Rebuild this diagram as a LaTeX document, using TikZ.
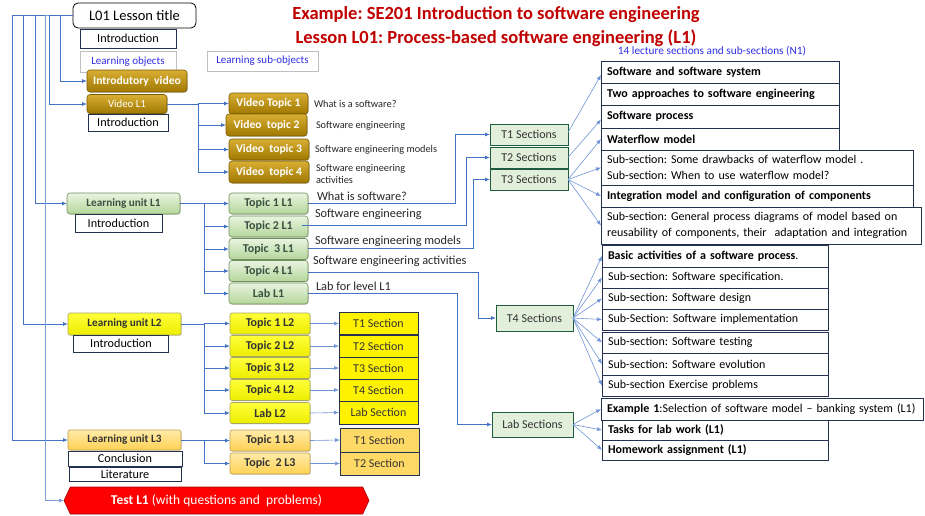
\documentclass[tikz,border=0pt]{standalone}
\usepackage{fontspec}
\setmainfont{Carlito}
\usetikzlibrary{arrows.meta,shapes.symbols,shadows}
\frenchspacing

\definecolor{conn}{HTML}{4472C4}
\definecolor{fan}{HTML}{6F94D6}
\definecolor{navy}{HTML}{25324F}
\definecolor{titlered}{HTML}{C00000}
\definecolor{objblue}{HTML}{2F2FE8}
\definecolor{goldtop}{HTML}{D8AE33}
\definecolor{goldbot}{HTML}{A07800}
\definecolor{goldline}{HTML}{7A5C00}
\definecolor{greentop}{HTML}{E9F4E0}
\definecolor{greenbot}{HTML}{B4D69A}
\definecolor{greenline}{HTML}{6F8F5C}
\definecolor{greentext}{HTML}{3A5040}
\definecolor{yeltop}{HTML}{FFFF3A}
\definecolor{yelbot}{HTML}{EDED00}
\definecolor{yelline}{HTML}{A8A860}
\definecolor{ortop}{HTML}{FFEBA8}
\definecolor{orbot}{HTML}{FFD154}
\definecolor{orline}{HTML}{BFA050}
\definecolor{secgreen}{HTML}{E2EFDA}
\definecolor{secorange}{HTML}{FFD966}
\definecolor{darktext}{HTML}{333333}

\newcommand\fsz[1]{\fontsize{#1}{#1}\selectfont}

\begin{document}
\begin{tikzpicture}[x=1pt,y=-1pt,
  every node/.style={inner sep=0pt, outer sep=0pt},
  link/.style={draw=conn, line width=0.8pt, -{Latex[length=5pt,width=4pt]}},
  fanlink/.style={draw=fan, line width=0.6pt, -{Latex[length=5pt,width=4pt]}},
  soft/.style={drop shadow={shadow xshift=0.8pt, shadow yshift=-0.8pt, opacity=0.3}},
  gold/.style={soft, rounded corners=3pt, top color=goldtop, bottom color=goldbot,
    draw=goldline, line width=0.6pt, text=white, font=\fsz{11.6}\bfseries},
  green/.style={soft, rounded corners=3pt, top color=greentop, bottom color=greenbot,
    draw=greenline, line width=0.6pt, text=greentext, font=\fsz{12}\bfseries},
  yel/.style={soft, rounded corners=2pt, top color=yeltop, bottom color=yelbot,
    draw=yelline, line width=0.6pt, text=darktext, font=\fsz{12}\bfseries},
  orng/.style={soft, rounded corners=2pt, top color=ortop, bottom color=orbot,
    draw=orline, line width=0.6pt, text=darktext, font=\fsz{12}\bfseries},
  unitfont/.style={font=\fsz{11.2}\bfseries},
  tsec/.style={fill=secgreen, draw=navy!80!green, line width=0.7pt, text=darktext, font=\fsz{12}},
  ysec/.style={fill=yellow, draw=navy, line width=0.7pt, text=darktext, font=\fsz{12}},
  osec/.style={fill=secorange, draw=navy, line width=0.7pt, text=darktext, font=\fsz{12}},
  plain/.style={fill=white, draw=navy, line width=0.7pt, text=black, font=\fsz{12.2}},
  objbox/.style={fill=white, draw=black!25, line width=0.6pt, text=objblue, font=\fsz{11}},
  rbox/.style={fill=white, draw=navy, line width=0.7pt, anchor=north west, align=left,
    inner xsep=6pt, inner ysep=0pt, text=black, font=\fontsize{12}{15.5}\selectfont},
  note/.style={anchor=west, text=black!85, font=\fsz{10.3}, align=left},
  tlabel/.style={anchor=west, text=black!85, font=\fsz{12.3}},
]
\useasboundingbox (0,0) rectangle (925,515);

% ---------- headings ----------
\node[font=\fsz{18.5}\bfseries, text=titlered] (h1) at (496,15) {Example: SE201 Introduction to software engineering};
\node[font=\fsz{18.5}\bfseries, text=titlered] (h2) at (496,38) {Lesson L01: Process-based software engineering (L1)};
\node[font=\fsz{11.3}, text=objblue] (n1) at (712,51) {14 lecture sections and sub-sections (N1)};

% ---------- lesson head ----------
\node[draw=black, fill=white, rounded corners=5pt, line width=0.8pt, font=\fsz{14.5},
  minimum width=123pt, minimum height=25pt] (title) at (134.5,15.5) {L01 Lesson title};
\node[plain, minimum width=96pt, minimum height=19pt] (intro0) at (128,38.5) {Introduction};
\node[objbox, minimum width=96pt, minimum height=21pt] (lobj) at (128,61.5) {Learning objects};
\node[objbox, minimum width=111pt, minimum height=20pt] (lsub) at (262.5,61) {Learning sub-objects};

% ---------- video branch ----------
\node[gold, minimum width=100pt, minimum height=22pt] (iv) at (137,81) {Introdutory\ \ video};
\node[gold, font=\fsz{10.8}, minimum width=80pt, minimum height=19pt] (vl1) at (127,104) {Video L1};
\node[plain, minimum width=80pt, minimum height=17pt] (intro1) at (128,122.5) {Introduction};

\node[gold, minimum width=79pt, minimum height=21pt] (vt1) at (268.5,103.5) {Video Topic 1};
\node[gold, minimum width=81pt, minimum height=22pt] (vt2) at (266.5,125) {Video\ \ topic 2};
\node[gold, minimum width=80pt, minimum height=21pt] (vt3) at (269,149.5) {Video\ \ topic 3};
\node[gold, minimum width=80pt, minimum height=22pt] (vt4) at (269,172) {Video\ \ topic 4};

\node[note] (nv1) at (314,103.5) {What is a software?};
\node[note] (nv2) at (316,126) {Software engineering};
\node[note] (nv3) at (315,149.5) {Software engineering models};
\node[note, font=\fontsize{10.3}{12.5}\selectfont] (nv4) at (316,174) {Software engineering\\activities};

% ---------- learning unit L1 ----------
\node[green, unitfont, minimum width=113pt, minimum height=21pt] (lu1) at (123.5,203.5) {Learning unit L1};
\node[plain, minimum width=87pt, minimum height=18pt] (intro2) at (118.5,223) {Introduction};

\node[green, minimum width=79pt, minimum height=21pt] (tp1) at (268.5,203.5) {Topic 1 L1};
\node[green, minimum width=79pt, minimum height=21pt] (tp2) at (268.5,226.5) {Topic 2 L1};
\node[green, minimum width=79pt, minimum height=21pt] (tp3) at (268.5,249) {Topic\ \ 3 L1};
\node[green, minimum width=79pt, minimum height=21pt] (tp4) at (268.5,271) {Topic 4 L1};
\node[green, minimum width=79pt, minimum height=21pt] (lab1) at (268.5,293.5) {Lab L1};

\node[tlabel] (nt1) at (317,196) {What is software?};
\node[tlabel] (nt2) at (315,214) {Software engineering};
\node[tlabel] (nt3) at (315,241) {Software engineering models};
\node[tlabel] (nt4) at (313,261.5) {Software engineering activities};
\node[tlabel] (nt5) at (316,286) {Lab for level L1};

% ---------- section groups ----------
\node[tsec, minimum width=78pt, minimum height=21pt] (t1) at (529,134.5) {T1 Sections};
\node[tsec, minimum width=78pt, minimum height=21pt] (t2) at (529,157.5) {T2 Sections};
\node[tsec, minimum width=78pt, minimum height=21pt] (t3) at (529,179.5) {T3 Sections};
\node[tsec, minimum width=77pt, minimum height=26pt] (t4) at (534.5,318) {T4 Sections};
\node[tsec, minimum width=81pt, minimum height=25pt] (tlab) at (532.5,424.5) {Lab Sections};

% ---------- lecture sections list ----------
\node[rbox, text width=226pt, minimum height=22pt] (s1) at (601,61) {\textbf{Software and software system}};
\node[rbox, text width=226pt, minimum height=22pt] (s2) at (601,83) {\textbf{Two approaches to software engineering}};
\node[rbox, text width=226pt, minimum height=23pt] (s3) at (601,105) {\textbf{Software process}};
\node[rbox, text width=226pt, minimum height=22pt] (s4) at (601,128) {\textbf{Waterflow model}};
\node[rbox, text width=300pt, minimum height=35pt] (s5) at (601,150) {Sub-section: Some drawbacks of waterflow model .\\Sub-section: When to use waterflow model?};
\node[rbox, text width=300pt, minimum height=22pt] (s6) at (601,185) {\textbf{Integration model and configuration of components}};
\node[rbox, text width=308pt, minimum height=37pt] (s7) at (601,207) {Sub-section: General process diagrams of model based on\\reusability of components, their\ \ adaptation and integration};

\node[rbox, text width=214pt, minimum height=22pt] (s8) at (602,245) {\textbf{Basic activities of a software process}.};
\node[rbox, text width=214pt, minimum height=21pt] (s9) at (602,267) {Sub-section: Software specification.};
\node[rbox, text width=214pt, minimum height=21pt] (s10) at (602,288) {Sub-section: Software design};
\node[rbox, text width=214pt, minimum height=21pt] (s11) at (602,309) {Sub-Section: Software implementation};
\node[rbox, text width=214pt, minimum height=21pt] (s12) at (602,332) {Sub-section: Software testing};
\node[rbox, text width=214pt, minimum height=22pt] (s13) at (602,353) {Sub-section: Software evolution};
\node[rbox, text width=214pt, minimum height=21pt] (s14) at (602,375) {Sub-section Exercise problems};

\node[rbox, text width=310pt, minimum height=22pt] (s15) at (601,398) {\textbf{Example 1}:Selection of software model – banking system (L1)};
\node[rbox, text width=214pt, minimum height=20pt] (s16) at (602,420) {\textbf{Tasks for lab work (L1)}};
\node[rbox, text width=214pt, minimum height=20pt] (s17) at (602,440) {\textbf{Homework assignment (L1)}};

% ---------- learning unit L2 ----------
\node[yel, unitfont, minimum width=113pt, minimum height=22pt] (lu2) at (124.5,324) {Learning unit L2};
\node[plain, minimum width=95pt, minimum height=17pt] (intro3) at (121,343.5) {Introduction};

\node[yel, minimum width=80pt, minimum height=21pt] (tq1) at (270,323.5) {Topic 1 L2};
\node[yel, minimum width=80pt, minimum height=21pt] (tq2) at (270,346) {Topic 2 L2};
\node[yel, minimum width=80pt, minimum height=21pt] (tq3) at (270,368) {Topic 3 L2};
\node[yel, minimum width=80pt, minimum height=21pt] (tq4) at (270,390) {Topic 4 L2};
\node[yel, minimum width=80pt, minimum height=21pt] (lab2) at (270,413) {Lab L2};

\node[ysec, minimum width=79pt, minimum height=22.5pt] (q1) at (378.5,323.5) {T1 Section};
\node[ysec, minimum width=79pt, minimum height=22pt] (q2) at (378.5,346) {T2 Section};
\node[ysec, minimum width=79pt, minimum height=22pt] (q3) at (378.5,368) {T3 Section};
\node[ysec, minimum width=79pt, minimum height=22pt] (q4) at (378.5,390) {T4 Section};
\node[ysec, minimum width=79pt, minimum height=23pt] (qlab) at (378.5,412.5) {Lab Section};

% ---------- learning unit L3 ----------
\node[orng, unitfont, minimum width=113pt, minimum height=20pt] (lu3) at (124.5,440) {Learning unit L3};
\node[plain, minimum width=114pt, minimum height=15pt] (concl) at (125,458.5) {Conclusion};
\node[plain, minimum width=112pt, minimum height=14pt] (lit) at (125,474) {Literature};

\node[orng, minimum width=80pt, minimum height=21pt] (tr1) at (270,440.5) {Topic 1 L3};
\node[orng, minimum width=80pt, minimum height=21pt] (tr2) at (270,463.5) {Topic\ \ 2 L3};

\node[osec, minimum width=79pt, minimum height=24pt] (r1) at (379.5,440) {T1 Section};
\node[osec, minimum width=79pt, minimum height=23pt] (r2) at (379.5,463.5) {T2 Section};

% ---------- test ----------
\node[signal, signal to=west and east, signal pointer angle=130, fill=red,
  draw=red!65!black, line width=0.6pt, minimum width=305pt, minimum height=27pt,
  text=white, font=\fsz{13.5}] (test) at (216.5,500.5) {\textbf{Test L1} (with questions and\ \ problems)};

% ---------- trunk from the lesson title ----------
\coordinate (k1) at (12,0);
\coordinate (k2) at (23,0);
\coordinate (k3) at (35,0);
\coordinate (k4) at (45,0);
\coordinate (k5) at (49,0);
\coordinate (k6) at (60,0);
\draw[link] (title.west) -- (title.west -| k1) |- (lu3.west);
\draw[link] (title.west) -- (title.west -| k2) |- (lu2.west);
\draw[link] (title.west) -- (title.west -| k3) |- (lu1.west);
\draw[link, draw=conn!70] (title.west) -- (title.west -| k4) |- (test.west);
\draw[link] (title.west) -- (title.west -| k5) |- (vl1.west);
\draw[link] (title.west) -- (title.west -| k6) |- (iv.west);

% ---------- video topics ----------
\coordinate (vb) at (198,0);
\foreach \n in {vt1,vt2,vt3,vt4}
  \draw[link] (vl1.east) -- (vl1.east -| vb) |- (\n.west);

% ---------- unit topics ----------
\coordinate (ub) at (204,0);
\foreach \n in {tp1,tp2,tp3,tp4,lab1}
  \draw[link] (lu1.east) -- (lu1.east -| ub) |- (\n.west);
\foreach \n in {tq1,tq2,tq3,tq4,lab2}
  \draw[link] (lu2.east) -- (lu2.east -| ub) |- (\n.west);
\foreach \n in {tr1,tr2}
  \draw[link] (lu3.east) -- (lu3.east -| ub) |- (\n.west);

% ---------- L2 / L3 topics to their sections ----------
\foreach \a/\b in {tq1/q1,tq2/q2,tq3/q3,tq4/q4,lab2/qlab,tr1/r1,tr2/r2}
  \draw[fanlink] (\a.east) -- (\b.west);

% ---------- L1 topics to section groups ----------
\coordinate (e1) at (455,0);
\coordinate (e2) at (466,0);
\coordinate (e3) at (473,0);
\coordinate (e4) at (478,0);
\coordinate (e5) at (457,0);
\draw[link] (tp1.east) -- (tp1.east -| e1) |- (t1.west);
\draw[link] ([xshift=-6pt,yshift=1pt]tp2.east) -- ([yshift=1pt]tp2.east -| e2) |- (t2.west);
\draw[link] ([yshift=1pt]tp3.east) -- ([yshift=1pt]tp3.east -| e3) |- (t3.west);
\draw[link] ([yshift=-1pt]tp4.east) -- ([yshift=-1pt]tp4.east -| e4) |- (t4.west);
\draw[link] (lab1.east) -- (lab1.east -| e5) |- (tlab.west);

% ---------- section groups to lecture sections ----------
\draw[fanlink] ([yshift=2pt]t1.east) -- ([yshift=-3pt]s1.west);
\draw[fanlink] (t2.east) -- ([yshift=-3pt]s3.west);
\foreach \s in {s4,s5,s6,s7}
  \draw[fanlink] (t3.east) -- (\s.west);
\foreach \s in {s8,s9,s10,s11,s12,s13,s14}
  \draw[fanlink] (t4.east) -- (\s.west);
\foreach \s in {s15,s16,s17}
  \draw[fanlink] (tlab.east) -- (\s.west);
\end{tikzpicture}
\end{document}
